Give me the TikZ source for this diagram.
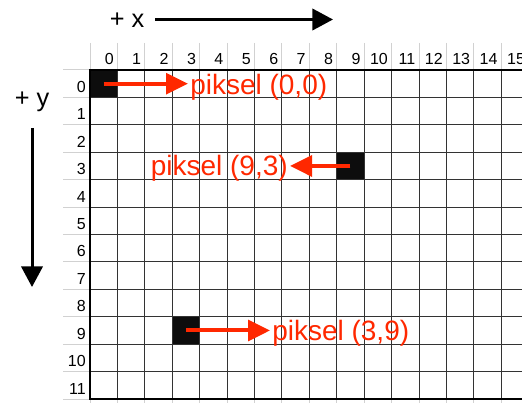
\documentclass[tikz,border=0pt]{standalone}
\usepackage{fontspec}
\setmainfont{Liberation Sans}
\usetikzlibrary{arrows.meta}
\definecolor{pikselred}{RGB}{255,40,0}
\tikzset{
  gridline/.style={draw=black!80, line width=0.75pt},
  frameline/.style={draw=black, line width=1.3pt},
  hdrline/.style={draw=black!18, line width=0.75pt},
  pikselbox/.style={fill=black!95, draw=none, inner sep=0pt, minimum size=20.6pt},
  pikseltext/.style={text=pikselred, font=\fontsize{21}{21}\selectfont, inner sep=1.5pt},
  pikselarrow/.style={draw=pikselred, line width=3pt, -{Triangle[length=16.5pt,width=15.5pt]}},
  axisarrow/.style={draw=black, line width=2.25pt, -{Triangle[length=15.5pt,width=16pt]}},
  axistext/.style={font=\fontsize{19}{19}\selectfont, inner sep=0pt},
  numtext/.style={font=\fontsize{12}{12}\selectfont, inner sep=0pt, anchor=base east},
}
\begin{document}
\begin{tikzpicture}[x=0.75pt,y=0.75pt,yscale=-1,xscale=1]
\path[use as bounding box] (0,0) rectangle (522,403);
\clip (0,0) rectangle (522,403);

%Header lines
\foreach \i in {0,...,16} {
  \draw[hdrline] ({90+27.42*\i},43) -- ({90+27.42*\i},70);
  \draw[hdrline] ({90+27.42*\i},399) -- ({90+27.42*\i},404);
}
\foreach \j in {0,...,12}
  \draw[hdrline] (63,{70+27.42*\j}) -- (90,{70+27.42*\j});

%Black pixels
\node[pikselbox] (p00) at ({90+27.42*0.5},{70+27.42*0.5}) {};
\node[pikselbox] (p93) at ({90+27.42*9.5},{70+27.42*3.5}) {};
\node[pikselbox] (p39) at ({90+27.42*3.5},{70+27.42*9.5}) {};

%Grid
\foreach \i in {1,...,16}
  \draw[gridline] ({90+27.42*\i},70) -- ({90+27.42*\i},399);
\foreach \j in {1,...,11}
  \draw[gridline] (90,{70+27.42*\j}) -- (540,{70+27.42*\j});
\draw[frameline] (540,70) -- (90,70) -- (90,399) -- (540,399);

%Column and row numbers
\foreach \i in {0,...,15}
  \node[numtext] (col\i) at ({90+27.42*(\i+1)-3.5},65) {\i};
\foreach \j in {0,...,11}
  \node[numtext] (row\j) at (86,{70+27.42*(\j+1)-5}) {\j};

% Text Node
\node[axistext] (xlabel) at (127,20) {+ x};
\node[axistext] (ylabel) at (32,102) {+ y};
\coordinate (xstart) at (155,19.5);
\coordinate (xend) at (333,19.5);
\coordinate (ystart) at (32,128);
\coordinate (yend) at (32,287);
\draw[axisarrow] (xstart) -- (xend);
\draw[axisarrow] (ystart) -- (yend);

% Text Node
\node[pikseltext, anchor=west] (t00) at (188,87.5) {piksel (0,0)};
\node[pikseltext, anchor=east] (t93) at (290,168) {piksel (9,3)};
\node[pikseltext, anchor=west] (t39) at (270,333) {piksel (3,9)};

%Red arrows
\draw[pikselarrow] (p00.center) -- (p00.center -| t00.west);
\draw[pikselarrow] (p93.center) -- (p93.center -| t93.east);
\draw[pikselarrow] (p39.center) -- (p39.center -| t39.west);

\end{tikzpicture}
\end{document}
